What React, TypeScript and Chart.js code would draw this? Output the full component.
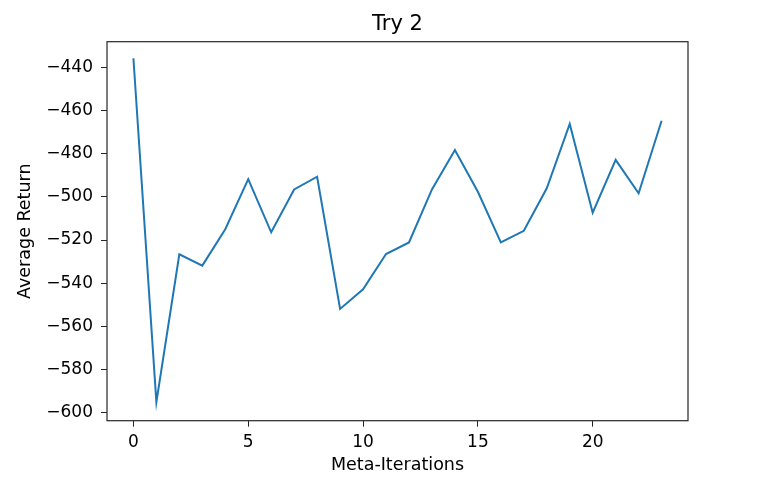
import React, { useEffect, useRef } from "react";
import { Chart, registerables } from "chart.js";

Chart.register(...registerables);

const iterations = [0, 1, 2, 3, 4, 5, 6, 7, 8, 9, 10, 11, 12, 13, 14, 15, 16, 17, 18, 19, 20, 21, 22, 23];
const averageReturn = [
  -435.6, -595.3, -526.6, -531.9, -515.0, -491.7, -516.4, -496.5, -490.6, -552.0, -542.9, -526.5,
  -521.1, -496.5, -478.2, -497.6, -521.1, -515.7, -496.0, -466.1, -507.3, -482.8, -498.3, -464.6,
];
const titleText = "Try 2";
const xLabel = "Meta-Iterations";
const yLabel = "Average Return";

const FONT = "'DejaVu Sans', sans-serif";

const frame = {
  id: "frame",
  afterDraw(chart: any) {
    const { ctx, chartArea } = chart;
    ctx.save();
    ctx.strokeStyle = "#262626";
    ctx.lineWidth = 1.2;
    ctx.strokeRect(chartArea.left, chartArea.top, chartArea.right - chartArea.left, chartArea.bottom - chartArea.top);
    ctx.restore();
  },
};

export default function App() {
  const ref = useRef<HTMLCanvasElement>(null);
  useEffect(() => {
    if (!ref.current) return;
    const chart = new Chart(ref.current, {
      type: "line",
      data: {
        datasets: [
          {
            data: iterations.map((x, i) => ({ x, y: averageReturn[i] })),
            borderColor: "#1f77b4",
            borderWidth: 2,
            pointRadius: 0,
            tension: 0,
            fill: false,
          },
        ],
      },
      plugins: [frame],
      options: {
        animation: false,
        responsive: true,
        maintainAspectRatio: false,
        layout: { padding: { left: 0, right: 70, top: 0, bottom: 0 } },
        plugins: {
          legend: { display: false },
          tooltip: { enabled: false },
          title: {
            display: true,
            fullSize: false,
            text: titleText,
            color: "#000",
            font: { family: FONT, size: 21, weight: "normal", lineHeight: 1.2 },
            padding: { top: 11.5, bottom: 5 },
          },
        },
        scales: {
          x: {
            type: "linear",
            min: -1.15,
            max: 24.15,
            afterFit: (s: any) => {
              s.height = 72.3;
            },
            ticks: {
              stepSize: 5,
              includeBounds: false,
              color: "#000",
              padding: 6,
              font: { family: FONT, size: 17 },
            },
            grid: { drawOnChartArea: false, tickLength: 6, color: "#262626", tickColor: "#262626" },
            border: { display: false },
            title: {
              display: true,
              text: xLabel,
              color: "#000",
              font: { family: FONT, size: 17.5, lineHeight: 1.2 },
              padding: { top: 0, bottom: 17 },
            },
          },
          y: {
            type: "linear",
            min: -603.9,
            max: -427.9,
            afterFit: (s: any) => {
              s.width = 107;
            },
            ticks: {
              stepSize: 20,
              includeBounds: false,
              color: "#000",
              padding: 8,
              font: { family: FONT, size: 17 },
              callback: (v: any) => String(v).replace("-", "\u2212"),
            },
            grid: { drawOnChartArea: false, tickLength: 6, color: "#262626", tickColor: "#262626" },
            border: { display: false },
            title: {
              display: true,
              text: yLabel,
              color: "#000",
              font: { family: FONT, size: 17.5, lineHeight: 1.2 },
              padding: { top: 15, bottom: 0 },
            },
          },
        },
      },
    });
    return () => chart.destroy();
  }, []);
  return (
    <div style={{ position: "absolute", left: 0, top: 0, width: 758, height: 493, background: "#fff" }}>
      <canvas ref={ref} />
    </div>
  );
}
